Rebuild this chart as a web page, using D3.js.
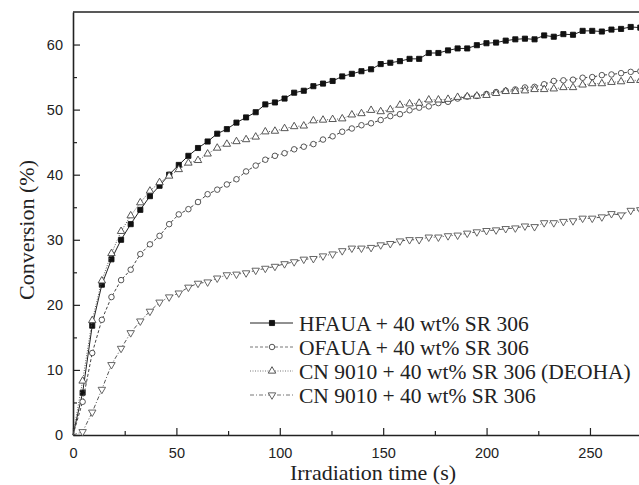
<!DOCTYPE html>
<html>
<head>
<meta charset="utf-8">
<script src="https://cdn.jsdelivr.net/npm/d3@7"></script>
<style>
body { margin: 0; background: #fff; }
.tick text { font-family: 'Liberation Sans', Arial, sans-serif; font-size: 14.5px; fill: #222; }
.axis-title, .legend-label { font-family: 'Liberation Serif', 'Times New Roman', serif; fill: #222; }
</style>
</head>
<body>
<svg id="chart" width="639" height="485"></svg>
<script>
let svg = d3.select('#chart');
let svgWidth = 639;
let svgHeight = 485;

// Irradiation times (s), one sample every ~4.65 s
let times = [0, 4.65, 9.3, 13.95, 18.6, 23.25, 27.9, 32.55, 37.2, 41.85,
    46.5, 51.15, 55.8, 60.45, 65.1, 69.75, 74.4, 79.05, 83.7, 88.35,
    93, 97.65, 102.3, 106.95, 111.6, 116.25, 120.9, 125.55, 130.2, 134.85,
    139.5, 144.15, 148.8, 153.45, 158.1, 162.75, 167.4, 172.05, 176.7, 181.35,
    186, 190.65, 195.3, 199.95, 204.6, 209.25, 213.9, 218.55, 223.2, 227.85,
    232.5, 237.15, 241.8, 246.45, 251.1, 255.75, 260.4, 265.05, 269.7, 274.35];

// Conversion (%) for each formulation
let hfaua = [0, 6.5, 16.8, 23.1, 27.0, 30.0, 32.4, 34.6, 36.7, 38.3,
    40.0, 41.5, 42.9, 44.1, 45.1, 46.3, 47.0, 48.0, 48.8, 49.6,
    50.8, 51.1, 51.7, 52.6, 52.9, 53.6, 54.0, 54.4, 55.1, 55.5,
    55.9, 56.2, 57.0, 57.2, 57.45, 57.8, 57.8, 58.7, 58.7, 59.1,
    59.4, 59.4, 59.9, 60.2, 60.3, 60.6, 60.8, 60.9, 60.8, 61.4,
    61.2, 61.6, 61.5, 62.1, 62.1, 62.0, 62.3, 62.4, 62.7, 62.6];
let ofaua = [0, 5.1, 12.6, 17.7, 21.2, 23.8, 25.4, 27.8, 29.3, 30.6,
    32.4, 33.9, 34.7, 35.8, 37.0, 37.7, 38.5, 39.3, 40.5, 41.4,
    42.3, 42.9, 43.3, 43.9, 44.3, 44.7, 45.4, 45.9, 46.6, 47.1,
    47.6, 47.9, 48.4, 49.0, 49.3, 49.9, 50.3, 50.5, 51.0, 51.2,
    51.7, 52.0, 52.1, 52.4, 52.7, 52.9, 53.1, 53.4, 53.5, 53.9,
    54.4, 54.5, 54.6, 54.9, 55.0, 55.3, 55.4, 55.6, 55.8, 55.9];
let cnDeoha = [0, 8.3, 17.6, 23.7, 27.9, 31.3, 33.7, 35.7, 37.5, 38.8,
    39.8, 40.8, 41.8, 42.2, 43.2, 44.1, 44.7, 45.1, 45.4, 45.8,
    46.6, 46.7, 47.1, 47.4, 47.5, 48.3, 48.4, 48.5, 48.6, 49.2,
    49.4, 49.9, 49.7, 50.0, 50.7, 50.9, 51.0, 51.5, 51.5, 51.6,
    51.9, 52.0, 52.1, 52.2, 52.5, 52.8, 52.8, 52.9, 53.1, 53.1,
    53.2, 53.4, 53.4, 53.8, 54.0, 54.0, 54.2, 54.3, 54.5, 54.5];
let cn9010 = [0, 0.5, 3.5, 7.0, 10.8, 13.3, 15.7, 17.5, 19.0, 20.4,
    21.2, 21.8, 22.7, 23.3, 23.5, 24.1, 24.6, 24.7, 24.9, 25.3,
    25.6, 25.9, 26.3, 26.6, 27.0, 27.1, 27.5, 27.8, 28.3, 28.7,
    28.7, 28.8, 29.2, 29.4, 29.8, 30.0, 30.0, 30.4, 30.4, 30.6,
    30.7, 31.0, 31.2, 31.4, 31.5, 31.7, 31.8, 32.1, 32.0, 32.6,
    32.6, 32.8, 32.9, 33.3, 33.3, 33.5, 34.0, 33.8, 34.5, 34.6];

let seriesNames = ['HFAUA + 40 wt% SR 306', 'OFAUA + 40 wt% SR 306',
    'CN 9010 + 40 wt% SR 306 (DEOHA)', 'CN 9010 + 40 wt% SR 306'];

let xTicks = [0, 50, 100, 150, 200, 250];
let xMinorTicks = [25, 75, 125, 175, 225, 275];
let yTicks = [0, 10, 20, 30, 40, 50, 60];
let yMinorTicks = [5, 15, 25, 35, 45, 55];

// style per series (order matches seriesNames)
let styles = [
    {values: hfaua, symbol: d3.symbolSquare, size: 26, rot: 0, fill: '#111', stroke: '#111', dash: null, line: '#222'},
    {values: ofaua, symbol: d3.symbolCircle, size: 24, rot: 0, fill: '#fff', stroke: '#444', dash: '3,2', line: '#444'},
    {values: cnDeoha, symbol: d3.symbolTriangle, size: 24, rot: 0, fill: '#fff', stroke: '#444', dash: '1,1.5', line: '#555'},
    {values: cn9010, symbol: d3.symbolTriangle, size: 24, rot: 180, fill: '#fff', stroke: '#555', dash: '4,2,1,2', line: '#555'}
];

let series = seriesNames.map((name, i) => ({
    name: name,
    points: times.map((t, j) => [t, styles[i].values[j]]),
    style: styles[i]
}));

// scales
let plotLeft = 73, plotRight = 652, plotTop = 12, plotBottom = 435;
let x = d3.scaleLinear().domain([0, 280]).range([plotLeft, plotRight]);
let y = d3.scaleLinear().domain([0, 65]).range([plotBottom, plotTop]);

// axes (ticks point inward)
svg.append('g')
    .attr('transform', `translate(0,${plotBottom})`)
    .call(d3.axisBottom(x).tickValues(xTicks).tickSizeInner(-7).tickSizeOuter(0).tickPadding(13));
svg.append('g')
    .attr('transform', `translate(0,${plotBottom})`)
    .call(d3.axisBottom(x).tickValues(xMinorTicks).tickSizeInner(-4).tickSizeOuter(0).tickFormat(''))
    .select('.domain').remove();

svg.append('g')
    .attr('transform', `translate(${plotLeft},0)`)
    .call(d3.axisLeft(y).tickValues(yTicks).tickSizeInner(-7).tickSizeOuter(0).tickPadding(10));
svg.append('g')
    .attr('transform', `translate(${plotLeft},0)`)
    .call(d3.axisLeft(y).tickValues(yMinorTicks).tickSizeInner(-4).tickSizeOuter(0).tickFormat(''))
    .select('.domain').remove();

svg.selectAll('.domain').attr('stroke', '#222').attr('stroke-width', 1.6);
svg.selectAll('.tick line').attr('stroke', '#222').attr('stroke-width', 1.2);

// top frame
svg.append('line')
    .attr('x1', plotLeft).attr('x2', plotRight)
    .attr('y1', plotTop).attr('y2', plotTop)
    .attr('stroke', '#222').attr('stroke-width', 1.6);

// curves
let line = d3.line()
    .x(d => x(d[0]))
    .y(d => y(d[1]));

let groups = svg.selectAll('.series')
    .data(series)
    .join('g')
    .classed('series', true);

groups.append('path')
    .attr('d', d => line(d.points))
    .attr('fill', 'none')
    .attr('stroke', d => d.style.line)
    .attr('stroke-width', 1)
    .attr('stroke-dasharray', d => d.style.dash);

groups.each(function(s) {
    d3.select(this).selectAll('.marker')
        .data(s.points.slice(1))
        .join('path')
        .classed('marker', true)
        .attr('d', d3.symbol().type(s.style.symbol).size(s.style.size))
        .attr('transform', d => `translate(${x(d[0])},${y(d[1])}) rotate(${s.style.rot})`)
        .attr('fill', s.style.fill)
        .attr('stroke', s.style.stroke)
        .attr('stroke-width', 0.9);
});

// legend
let legend = svg.append('g');
let rowY = d => 323 + d * 24;
series.forEach((s, i) => {
    legend.append('line')
        .attr('x1', 250).attr('x2', 293)
        .attr('y1', rowY(i)).attr('y2', rowY(i))
        .attr('stroke', i == 0 ? s.style.line : '#777')
        .attr('stroke-width', 1)
        .attr('stroke-dasharray', s.style.dash);
    legend.append('path')
        .attr('d', d3.symbol().type(s.style.symbol).size(s.style.size)())
        .attr('transform', `translate(272,${rowY(i)}) rotate(${s.style.rot})`)
        .attr('fill', s.style.fill)
        .attr('stroke', s.style.stroke)
        .attr('stroke-width', 0.9);
    legend.append('text')
        .classed('legend-label', true)
        .attr('x', 299)
        .attr('y', rowY(i))
        .attr('dy', '0.35em')
        .style('font-size', '21.5px')
        .text(s.name);
});

// axis titles
svg.append('text')
    .classed('axis-title', true)
    .attr('x', 373)
    .attr('y', 480)
    .attr('text-anchor', 'middle')
    .style('font-size', '22px')
    .text('Irradiation time (s)');

svg.append('text')
    .classed('axis-title', true)
    .attr('transform', 'translate(34,230) rotate(-90)')
    .attr('text-anchor', 'middle')
    .style('font-size', '22px')
    .text('Conversion (%)');
</script>
</body>
</html>
